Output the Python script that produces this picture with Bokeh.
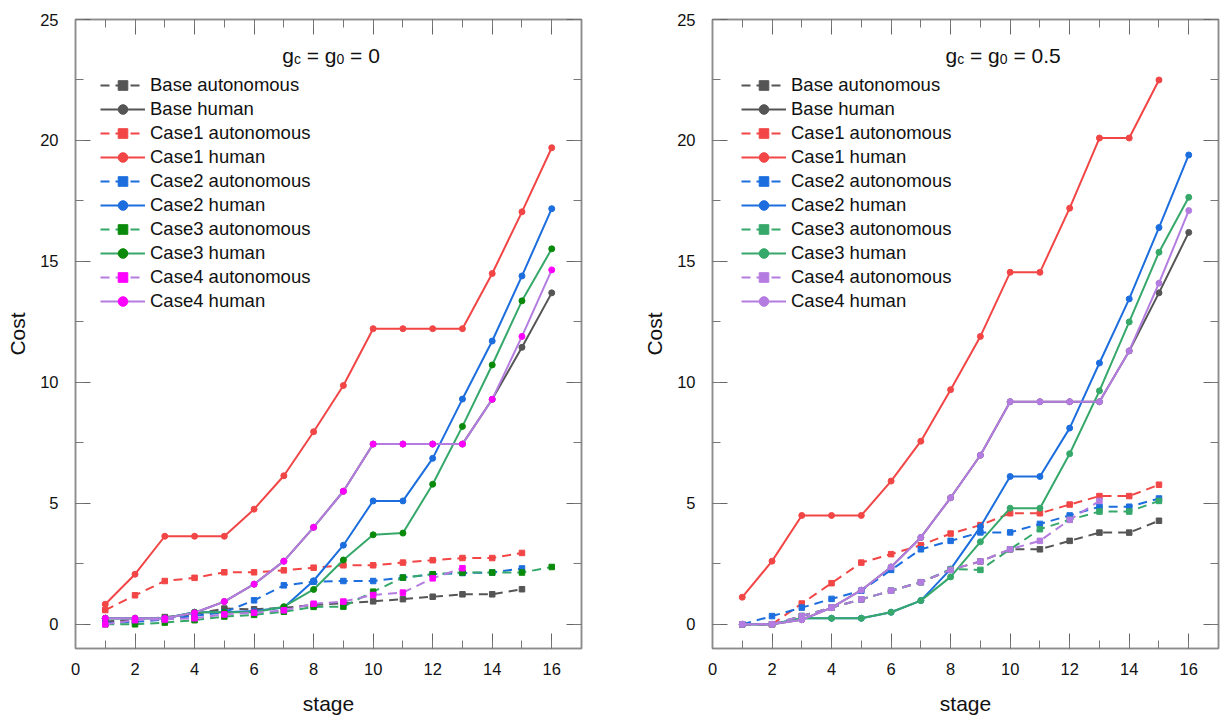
from bokeh.plotting import figure
from bokeh.layouts import row
from bokeh.models import (Range1d, SingleIntervalTicker, LinearAxis, Legend, LegendItem,
                          Label, CustomJSTickFormatter)
from bokeh.embed import file_html
from bokeh.resources import INLINE

stages = list(range(1, 17))
series_names = ["Base autonomous", "Base human", "Case1 autonomous", "Case1 human",
                "Case2 autonomous", "Case2 human", "Case3 autonomous", "Case3 human",
                "Case4 autonomous", "Case4 human"]

# ---- g_c = g_0 = 0 ----
base_auto_0 = [0.12, 0.17, 0.3, 0.42, 0.65, 0.62, 0.68, 0.8, 0.87, 0.95, 1.04, 1.14, 1.24, 1.24, 1.45]
base_human_0 = [0.25, 0.25, 0.25, 0.48, 0.94, 1.66, 2.61, 4.01, 5.5, 7.45, 7.45, 7.45, 7.45, 9.3, 11.45, 13.7]
case1_auto_0 = [0.59, 1.2, 1.79, 1.92, 2.15, 2.15, 2.23, 2.34, 2.44, 2.44, 2.55, 2.65, 2.74, 2.74, 2.95]
case1_human_0 = [0.83, 2.07, 3.64, 3.64, 3.64, 4.76, 6.14, 7.96, 9.87, 12.22, 12.22, 12.22, 12.22, 14.5, 17.05, 19.7]
case2_auto_0 = [0.05, 0.1, 0.2, 0.35, 0.5, 0.99, 1.61, 1.76, 1.79, 1.79, 1.93, 2.07, 2.12, 2.14, 2.31]
case2_human_0 = [0.25, 0.25, 0.25, 0.5, 0.5, 0.55, 0.69, 1.8, 3.27, 5.1, 5.1, 6.86, 9.31, 11.71, 14.4, 17.18]
case3_auto_0 = [0.0, 0.0, 0.07, 0.17, 0.32, 0.39, 0.52, 0.72, 0.73, 1.35, 1.93, 2.07, 2.14, 2.14, 2.14, 2.37]
case3_human_0 = [0.25, 0.25, 0.25, 0.5, 0.5, 0.5, 0.73, 1.44, 2.66, 3.7, 3.77, 5.79, 8.18, 10.72, 13.37, 15.52]
case4_auto_0 = [0.0, 0.17, 0.2, 0.25, 0.41, 0.48, 0.58, 0.85, 0.94, 1.21, 1.31, 1.9, 2.32]
case4_human_0 = [0.25, 0.25, 0.25, 0.48, 0.94, 1.66, 2.61, 4.01, 5.5, 7.45, 7.45, 7.45, 7.45, 9.3, 11.9, 14.65]

# ---- g_c = g_0 = 0.5 ----
base_auto_5 = [0, 0, 0.34, 0.69, 1.03, 1.39, 1.74, 2.25, 2.6, 3.1, 3.1, 3.45, 3.79, 3.79, 4.28]
base_human_5 = [0, 0, 0.19, 0.69, 1.41, 2.37, 3.59, 5.23, 6.99, 9.2, 9.2, 9.2, 9.2, 11.3, 13.7, 16.2]
case1_auto_5 = [0, 0, 0.86, 1.7, 2.55, 2.9, 3.27, 3.75, 4.1, 4.59, 4.59, 4.95, 5.3, 5.3, 5.77]
case1_human_5 = [1.12, 2.61, 4.5, 4.5, 4.5, 5.92, 7.57, 9.7, 11.9, 14.55, 14.55, 17.2, 20.1, 20.1, 22.5]
case2_auto_5 = [0, 0.34, 0.69, 1.05, 1.39, 2.25, 3.1, 3.45, 3.8, 3.8, 4.15, 4.5, 4.86, 4.86, 5.2]
case2_human_5 = [0, 0, 0.25, 0.25, 0.25, 0.5, 0.98, 2.28, 4.03, 6.11, 6.11, 8.11, 10.8, 13.45, 16.4, 19.4]
case3_auto_5 = [0, 0, 0.34, 0.69, 1.03, 1.39, 1.74, 2.28, 2.25, 3.1, 3.93, 4.32, 4.66, 4.66, 5.1]
case3_human_5 = [0, 0, 0.25, 0.25, 0.25, 0.5, 0.98, 1.96, 3.41, 4.8, 4.8, 7.05, 9.65, 12.5, 15.38, 17.65]
case4_auto_5 = [0, 0, 0.34, 0.69, 1.03, 1.39, 1.74, 2.25, 2.6, 3.1, 3.45, 4.32, 5.1]
case4_human_5 = [0, 0, 0.19, 0.69, 1.41, 2.37, 3.59, 5.23, 6.99, 9.2, 9.2, 9.2, 9.2, 11.3, 14.1, 17.1]

GRAY = "#555555"
RED = "#f24646"
BLUE = "#1c6ede"
GREEN = "#35a86a"
PURPLE = "#b47ce0"
DKGREEN = "#0a8a0a"
MAGENTA = "#ff00ff"

FONT = "Liberation Sans"
PXU = 506 / 17.0


def style_axis(ax, labels=True):
    ax.axis_line_color = "#8c8c8c"
    ax.axis_line_width = 1.5
    ax.major_tick_in = 15
    ax.major_tick_out = 0
    ax.minor_tick_in = 8
    ax.minor_tick_out = 0
    ax.major_tick_line_color = "#666666"
    ax.minor_tick_line_color = "#777777"
    ax.major_tick_line_width = 1
    ax.minor_tick_line_width = 1
    if labels:
        ax.major_label_text_font = FONT
        ax.major_label_text_font_size = "16.5px"
        ax.major_label_text_color = "#111111"
        ax.axis_label_text_font = FONT
        ax.axis_label_text_font_size = "21px"
        ax.axis_label_text_font_style = "normal"
        ax.axis_label_text_color = "#111111"
    else:
        ax.formatter = CustomJSTickFormatter(code="return ''")
        ax.major_label_text_font_size = "0px"
        ax.major_label_standoff = 0


def make_fig(data, width, bl, br, title_tail, title_x, legend_x, dark):
    p = figure(width=width, height=724, x_range=Range1d(0, 17), y_range=Range1d(-1, 25),
               output_backend="svg", toolbar_location=None,
               min_border_left=bl, min_border_right=br, min_border_top=19, min_border_bottom=76)
    p.xgrid.visible = False
    p.ygrid.visible = False
    p.outline_line_color = "#8c8c8c"
    p.outline_line_width = 1.5
    p.xaxis.ticker = SingleIntervalTicker(interval=2, num_minor_ticks=2)
    p.yaxis.ticker = SingleIntervalTicker(interval=5, num_minor_ticks=2)
    p.xaxis.axis_label = "stage"
    p.yaxis.axis_label = "Cost"
    style_axis(p.xaxis[0])
    style_axis(p.yaxis[0])
    p.xaxis.major_label_standoff = 14
    p.yaxis.major_label_standoff = 17
    p.xaxis.axis_label_standoff = 14
    p.yaxis.axis_label_standoff = 8
    top = LinearAxis(ticker=SingleIntervalTicker(interval=2, num_minor_ticks=2))
    right = LinearAxis(ticker=SingleIntervalTicker(interval=5, num_minor_ticks=2))
    style_axis(top, labels=False)
    style_axis(right, labels=False)
    p.add_layout(top, "above")
    p.add_layout(right, "right")

    colors = [GRAY, GRAY, RED, RED, BLUE, BLUE, GREEN, GREEN, PURPLE, PURPLE]
    mcolors = list(colors)
    if dark:
        mcolors[6] = DKGREEN
        mcolors[7] = DKGREEN
        mcolors[8] = MAGENTA
        mcolors[9] = MAGENTA
    items = []
    for i, (name, vals) in enumerate(zip(series_names, data)):
        xs = stages[:len(vals)]
        auto = (i % 2 == 0)
        lr = p.line(xs, vals, line_color=colors[i], line_width=2,
                    line_dash="9 6" if auto else "solid")
        if auto:
            sr = p.scatter(xs, vals, marker="square", size=5.5, fill_color=mcolors[i],
                           line_color=mcolors[i])
        else:
            sr = p.scatter(xs, vals, marker="circle", size=6, fill_color=mcolors[i],
                           line_color=mcolors[i])
        items.append(LegendItem(label=name, renderers=[lr, sr]))

    legend = Legend(items=items, location=(legend_x, 335), padding=0, margin=0,
                    spacing=0, label_height=24, glyph_height=24, glyph_width=45,
                    label_standoff=5, border_line_color=None, background_fill_alpha=0,
                    label_text_font=FONT, label_text_font_size="18.5px",
                    label_text_color="#111111")
    p.add_layout(legend, "center")

    # title with subscripts (positions in px from the title start)
    big = 21
    sub = 14
    pieces = [
        ("g", big, False, 0.0),
        ("c", sub, True, 0.556 * big),
        ("= g", big, False, 0.556 * big + 0.5 * sub + 0.278 * big),
        ("0", sub, True, 0.556 * big + 0.5 * sub + 0.278 * big + 1.418 * big),
        (title_tail, big, False, 0.556 * big + 0.5 * sub + 0.278 * big + 1.418 * big
         + 0.556 * sub + 0.278 * big),
    ]
    for txt, size, is_sub, off in pieces:
        yv = 23.35 if is_sub else 23.51
        p.add_layout(Label(x=title_x, y=yv, x_offset=off, text=txt, text_font=FONT,
                           text_font_size=f"{size}px", text_color="#111111",
                           text_align="left", text_baseline="alphabetic"))
    return p


left_data = [base_auto_0, base_human_0, case1_auto_0, case1_human_0, case2_auto_0,
             case2_human_0, case3_auto_0, case3_human_0, case4_auto_0, case4_human_0]
right_data = [base_auto_5, base_human_5, case1_auto_5, case1_human_5, case2_auto_5,
              case2_human_5, case3_auto_5, case3_human_5, case4_auto_5, case4_human_5]

p1 = make_fig(left_data, 640, 75, 59, "= 0", (281.7 - 75) / PXU, 25, True)
p2 = make_fig(right_data, 581, 72, 3, "= 0.5", (945 - 712) / PXU, 29, False)

layout = row(p1, p2)
open("out.html", "w").write(file_html(layout, INLINE))
